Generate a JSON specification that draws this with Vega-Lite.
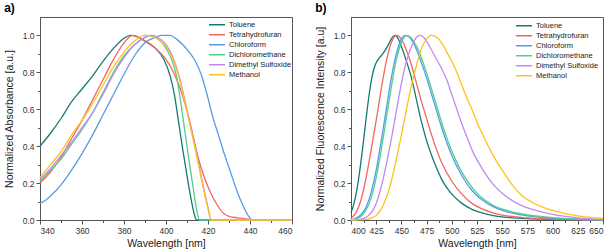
{
  "$schema": "https://vega.github.io/schema/vega-lite/v6.json",
  "padding": {"left": 3, "top": 1, "right": 6, "bottom": 2},
  "spacing": 18,
  "datasets": {
    "abs": [
      {"solvent": "Toluene", "wl": 340, "v": 0.40}, {"solvent": "Toluene", "wl": 345, "v": 0.47}, {"solvent": "Toluene", "wl": 350, "v": 0.55}, {"solvent": "Toluene", "wl": 355, "v": 0.64}, {"solvent": "Toluene", "wl": 360, "v": 0.71}, {"solvent": "Toluene", "wl": 365, "v": 0.78}, {"solvent": "Toluene", "wl": 370, "v": 0.86}, {"solvent": "Toluene", "wl": 375, "v": 0.93}, {"solvent": "Toluene", "wl": 380, "v": 0.985}, {"solvent": "Toluene", "wl": 383, "v": 1.0}, {"solvent": "Toluene", "wl": 386, "v": 0.995}, {"solvent": "Toluene", "wl": 390, "v": 0.97}, {"solvent": "Toluene", "wl": 395, "v": 0.93}, {"solvent": "Toluene", "wl": 399, "v": 0.87}, {"solvent": "Toluene", "wl": 402, "v": 0.78}, {"solvent": "Toluene", "wl": 404, "v": 0.68}, {"solvent": "Toluene", "wl": 406, "v": 0.53}, {"solvent": "Toluene", "wl": 408, "v": 0.38}, {"solvent": "Toluene", "wl": 410, "v": 0.24}, {"solvent": "Toluene", "wl": 412, "v": 0.11}, {"solvent": "Toluene", "wl": 413.5, "v": 0.03}, {"solvent": "Toluene", "wl": 414.5, "v": 0.0}, {"solvent": "Toluene", "wl": 430, "v": 0.0}, {"solvent": "Toluene", "wl": 460, "v": 0.0},
      {"solvent": "Tetrahydrofuran", "wl": 340, "v": 0.20}, {"solvent": "Tetrahydrofuran", "wl": 345, "v": 0.26}, {"solvent": "Tetrahydrofuran", "wl": 350, "v": 0.34}, {"solvent": "Tetrahydrofuran", "wl": 355, "v": 0.44}, {"solvent": "Tetrahydrofuran", "wl": 360, "v": 0.54}, {"solvent": "Tetrahydrofuran", "wl": 365, "v": 0.65}, {"solvent": "Tetrahydrofuran", "wl": 370, "v": 0.76}, {"solvent": "Tetrahydrofuran", "wl": 375, "v": 0.87}, {"solvent": "Tetrahydrofuran", "wl": 380, "v": 0.96}, {"solvent": "Tetrahydrofuran", "wl": 384, "v": 1.0}, {"solvent": "Tetrahydrofuran", "wl": 387, "v": 0.99}, {"solvent": "Tetrahydrofuran", "wl": 390, "v": 0.97}, {"solvent": "Tetrahydrofuran", "wl": 395, "v": 0.93}, {"solvent": "Tetrahydrofuran", "wl": 400, "v": 0.87}, {"solvent": "Tetrahydrofuran", "wl": 404, "v": 0.79}, {"solvent": "Tetrahydrofuran", "wl": 408, "v": 0.67}, {"solvent": "Tetrahydrofuran", "wl": 410, "v": 0.59}, {"solvent": "Tetrahydrofuran", "wl": 412, "v": 0.50}, {"solvent": "Tetrahydrofuran", "wl": 414, "v": 0.40}, {"solvent": "Tetrahydrofuran", "wl": 416, "v": 0.31}, {"solvent": "Tetrahydrofuran", "wl": 418, "v": 0.24}, {"solvent": "Tetrahydrofuran", "wl": 420, "v": 0.18}, {"solvent": "Tetrahydrofuran", "wl": 422, "v": 0.13}, {"solvent": "Tetrahydrofuran", "wl": 424.5, "v": 0.08}, {"solvent": "Tetrahydrofuran", "wl": 427, "v": 0.04}, {"solvent": "Tetrahydrofuran", "wl": 430, "v": 0.02}, {"solvent": "Tetrahydrofuran", "wl": 434, "v": 0.012}, {"solvent": "Tetrahydrofuran", "wl": 437, "v": 0.008}, {"solvent": "Tetrahydrofuran", "wl": 440, "v": 0.003}, {"solvent": "Tetrahydrofuran", "wl": 443, "v": 0.0}, {"solvent": "Tetrahydrofuran", "wl": 460, "v": 0.0},
      {"solvent": "Chloroform", "wl": 340, "v": 0.09}, {"solvent": "Chloroform", "wl": 343, "v": 0.11}, {"solvent": "Chloroform", "wl": 345, "v": 0.13}, {"solvent": "Chloroform", "wl": 350, "v": 0.19}, {"solvent": "Chloroform", "wl": 355, "v": 0.27}, {"solvent": "Chloroform", "wl": 360, "v": 0.36}, {"solvent": "Chloroform", "wl": 365, "v": 0.46}, {"solvent": "Chloroform", "wl": 370, "v": 0.57}, {"solvent": "Chloroform", "wl": 375, "v": 0.68}, {"solvent": "Chloroform", "wl": 380, "v": 0.79}, {"solvent": "Chloroform", "wl": 385, "v": 0.89}, {"solvent": "Chloroform", "wl": 390, "v": 0.96}, {"solvent": "Chloroform", "wl": 395, "v": 0.99}, {"solvent": "Chloroform", "wl": 398, "v": 1.0}, {"solvent": "Chloroform", "wl": 402, "v": 1.0}, {"solvent": "Chloroform", "wl": 405, "v": 0.98}, {"solvent": "Chloroform", "wl": 408, "v": 0.95}, {"solvent": "Chloroform", "wl": 411, "v": 0.91}, {"solvent": "Chloroform", "wl": 414, "v": 0.86}, {"solvent": "Chloroform", "wl": 417, "v": 0.78}, {"solvent": "Chloroform", "wl": 420, "v": 0.66}, {"solvent": "Chloroform", "wl": 422, "v": 0.57}, {"solvent": "Chloroform", "wl": 425, "v": 0.46}, {"solvent": "Chloroform", "wl": 428, "v": 0.35}, {"solvent": "Chloroform", "wl": 431, "v": 0.25}, {"solvent": "Chloroform", "wl": 434, "v": 0.15}, {"solvent": "Chloroform", "wl": 437, "v": 0.07}, {"solvent": "Chloroform", "wl": 440, "v": 0.01}, {"solvent": "Chloroform", "wl": 441, "v": 0.0}, {"solvent": "Chloroform", "wl": 460, "v": 0.0},
      {"solvent": "Dichloromethane", "wl": 340, "v": 0.21}, {"solvent": "Dichloromethane", "wl": 345, "v": 0.27}, {"solvent": "Dichloromethane", "wl": 350, "v": 0.33}, {"solvent": "Dichloromethane", "wl": 355, "v": 0.41}, {"solvent": "Dichloromethane", "wl": 360, "v": 0.49}, {"solvent": "Dichloromethane", "wl": 365, "v": 0.58}, {"solvent": "Dichloromethane", "wl": 370, "v": 0.69}, {"solvent": "Dichloromethane", "wl": 375, "v": 0.80}, {"solvent": "Dichloromethane", "wl": 380, "v": 0.89}, {"solvent": "Dichloromethane", "wl": 385, "v": 0.95}, {"solvent": "Dichloromethane", "wl": 390, "v": 0.99}, {"solvent": "Dichloromethane", "wl": 392, "v": 1.0}, {"solvent": "Dichloromethane", "wl": 395, "v": 0.99}, {"solvent": "Dichloromethane", "wl": 400, "v": 0.93}, {"solvent": "Dichloromethane", "wl": 403, "v": 0.86}, {"solvent": "Dichloromethane", "wl": 405, "v": 0.78}, {"solvent": "Dichloromethane", "wl": 407, "v": 0.64}, {"solvent": "Dichloromethane", "wl": 409, "v": 0.48}, {"solvent": "Dichloromethane", "wl": 411, "v": 0.32}, {"solvent": "Dichloromethane", "wl": 413, "v": 0.17}, {"solvent": "Dichloromethane", "wl": 414.5, "v": 0.06}, {"solvent": "Dichloromethane", "wl": 416, "v": 0.0}, {"solvent": "Dichloromethane", "wl": 460, "v": 0.0},
      {"solvent": "Dimethyl Sulfoxide", "wl": 340, "v": 0.22}, {"solvent": "Dimethyl Sulfoxide", "wl": 345, "v": 0.28}, {"solvent": "Dimethyl Sulfoxide", "wl": 350, "v": 0.35}, {"solvent": "Dimethyl Sulfoxide", "wl": 355, "v": 0.42}, {"solvent": "Dimethyl Sulfoxide", "wl": 360, "v": 0.50}, {"solvent": "Dimethyl Sulfoxide", "wl": 365, "v": 0.58}, {"solvent": "Dimethyl Sulfoxide", "wl": 370, "v": 0.68}, {"solvent": "Dimethyl Sulfoxide", "wl": 375, "v": 0.79}, {"solvent": "Dimethyl Sulfoxide", "wl": 380, "v": 0.88}, {"solvent": "Dimethyl Sulfoxide", "wl": 385, "v": 0.95}, {"solvent": "Dimethyl Sulfoxide", "wl": 390, "v": 0.99}, {"solvent": "Dimethyl Sulfoxide", "wl": 393, "v": 1.0}, {"solvent": "Dimethyl Sulfoxide", "wl": 396, "v": 0.99}, {"solvent": "Dimethyl Sulfoxide", "wl": 400, "v": 0.95}, {"solvent": "Dimethyl Sulfoxide", "wl": 403, "v": 0.89}, {"solvent": "Dimethyl Sulfoxide", "wl": 406, "v": 0.79}, {"solvent": "Dimethyl Sulfoxide", "wl": 409, "v": 0.65}, {"solvent": "Dimethyl Sulfoxide", "wl": 411.5, "v": 0.52}, {"solvent": "Dimethyl Sulfoxide", "wl": 414, "v": 0.39}, {"solvent": "Dimethyl Sulfoxide", "wl": 416, "v": 0.28}, {"solvent": "Dimethyl Sulfoxide", "wl": 418, "v": 0.17}, {"solvent": "Dimethyl Sulfoxide", "wl": 420, "v": 0.07}, {"solvent": "Dimethyl Sulfoxide", "wl": 421.5, "v": 0.0}, {"solvent": "Dimethyl Sulfoxide", "wl": 460, "v": 0.0},
      {"solvent": "Methanol", "wl": 340, "v": 0.23}, {"solvent": "Methanol", "wl": 345, "v": 0.30}, {"solvent": "Methanol", "wl": 350, "v": 0.37}, {"solvent": "Methanol", "wl": 355, "v": 0.46}, {"solvent": "Methanol", "wl": 360, "v": 0.54}, {"solvent": "Methanol", "wl": 365, "v": 0.63}, {"solvent": "Methanol", "wl": 370, "v": 0.73}, {"solvent": "Methanol", "wl": 375, "v": 0.83}, {"solvent": "Methanol", "wl": 380, "v": 0.91}, {"solvent": "Methanol", "wl": 385, "v": 0.97}, {"solvent": "Methanol", "wl": 390, "v": 1.0}, {"solvent": "Methanol", "wl": 393, "v": 0.995}, {"solvent": "Methanol", "wl": 396, "v": 0.98}, {"solvent": "Methanol", "wl": 400, "v": 0.94}, {"solvent": "Methanol", "wl": 403, "v": 0.88}, {"solvent": "Methanol", "wl": 406, "v": 0.78}, {"solvent": "Methanol", "wl": 409, "v": 0.64}, {"solvent": "Methanol", "wl": 411.5, "v": 0.51}, {"solvent": "Methanol", "wl": 414, "v": 0.38}, {"solvent": "Methanol", "wl": 416, "v": 0.27}, {"solvent": "Methanol", "wl": 418, "v": 0.16}, {"solvent": "Methanol", "wl": 420, "v": 0.06}, {"solvent": "Methanol", "wl": 421.5, "v": 0.0}, {"solvent": "Methanol", "wl": 460, "v": 0.0}
    ],
    "fl": [
      {"solvent": "Toluene", "wl": 400, "v": 0.04}, {"solvent": "Toluene", "wl": 403, "v": 0.09}, {"solvent": "Toluene", "wl": 406, "v": 0.17}, {"solvent": "Toluene", "wl": 409, "v": 0.28}, {"solvent": "Toluene", "wl": 412, "v": 0.41}, {"solvent": "Toluene", "wl": 415, "v": 0.55}, {"solvent": "Toluene", "wl": 418, "v": 0.68}, {"solvent": "Toluene", "wl": 421, "v": 0.78}, {"solvent": "Toluene", "wl": 424, "v": 0.84}, {"solvent": "Toluene", "wl": 427, "v": 0.87}, {"solvent": "Toluene", "wl": 430, "v": 0.89}, {"solvent": "Toluene", "wl": 434, "v": 0.92}, {"solvent": "Toluene", "wl": 438, "v": 0.96}, {"solvent": "Toluene", "wl": 441, "v": 0.99}, {"solvent": "Toluene", "wl": 444, "v": 1.0}, {"solvent": "Toluene", "wl": 447, "v": 0.98}, {"solvent": "Toluene", "wl": 450, "v": 0.94}, {"solvent": "Toluene", "wl": 455, "v": 0.86}, {"solvent": "Toluene", "wl": 460, "v": 0.77}, {"solvent": "Toluene", "wl": 465, "v": 0.65}, {"solvent": "Toluene", "wl": 470, "v": 0.53}, {"solvent": "Toluene", "wl": 475, "v": 0.43}, {"solvent": "Toluene", "wl": 480, "v": 0.35}, {"solvent": "Toluene", "wl": 485, "v": 0.28}, {"solvent": "Toluene", "wl": 490, "v": 0.22}, {"solvent": "Toluene", "wl": 495, "v": 0.175}, {"solvent": "Toluene", "wl": 500, "v": 0.14}, {"solvent": "Toluene", "wl": 510, "v": 0.09}, {"solvent": "Toluene", "wl": 520, "v": 0.058}, {"solvent": "Toluene", "wl": 530, "v": 0.038}, {"solvent": "Toluene", "wl": 540, "v": 0.025}, {"solvent": "Toluene", "wl": 550, "v": 0.017}, {"solvent": "Toluene", "wl": 575, "v": 0.007}, {"solvent": "Toluene", "wl": 600, "v": 0.003}, {"solvent": "Toluene", "wl": 650, "v": 0.0},
      {"solvent": "Tetrahydrofuran", "wl": 400, "v": 0.01}, {"solvent": "Tetrahydrofuran", "wl": 405, "v": 0.04}, {"solvent": "Tetrahydrofuran", "wl": 410, "v": 0.11}, {"solvent": "Tetrahydrofuran", "wl": 415, "v": 0.23}, {"solvent": "Tetrahydrofuran", "wl": 420, "v": 0.38}, {"solvent": "Tetrahydrofuran", "wl": 425, "v": 0.54}, {"solvent": "Tetrahydrofuran", "wl": 430, "v": 0.71}, {"solvent": "Tetrahydrofuran", "wl": 435, "v": 0.86}, {"solvent": "Tetrahydrofuran", "wl": 440, "v": 0.96}, {"solvent": "Tetrahydrofuran", "wl": 445, "v": 1.0}, {"solvent": "Tetrahydrofuran", "wl": 450, "v": 0.98}, {"solvent": "Tetrahydrofuran", "wl": 455, "v": 0.92}, {"solvent": "Tetrahydrofuran", "wl": 460, "v": 0.84}, {"solvent": "Tetrahydrofuran", "wl": 465, "v": 0.74}, {"solvent": "Tetrahydrofuran", "wl": 470, "v": 0.64}, {"solvent": "Tetrahydrofuran", "wl": 475, "v": 0.55}, {"solvent": "Tetrahydrofuran", "wl": 480, "v": 0.46}, {"solvent": "Tetrahydrofuran", "wl": 485, "v": 0.38}, {"solvent": "Tetrahydrofuran", "wl": 490, "v": 0.31}, {"solvent": "Tetrahydrofuran", "wl": 500, "v": 0.21}, {"solvent": "Tetrahydrofuran", "wl": 510, "v": 0.14}, {"solvent": "Tetrahydrofuran", "wl": 520, "v": 0.09}, {"solvent": "Tetrahydrofuran", "wl": 530, "v": 0.06}, {"solvent": "Tetrahydrofuran", "wl": 540, "v": 0.04}, {"solvent": "Tetrahydrofuran", "wl": 550, "v": 0.027}, {"solvent": "Tetrahydrofuran", "wl": 575, "v": 0.011}, {"solvent": "Tetrahydrofuran", "wl": 600, "v": 0.005}, {"solvent": "Tetrahydrofuran", "wl": 650, "v": 0.0},
      {"solvent": "Chloroform", "wl": 400, "v": 0.0}, {"solvent": "Chloroform", "wl": 405, "v": 0.01}, {"solvent": "Chloroform", "wl": 410, "v": 0.03}, {"solvent": "Chloroform", "wl": 415, "v": 0.07}, {"solvent": "Chloroform", "wl": 420, "v": 0.15}, {"solvent": "Chloroform", "wl": 425, "v": 0.27}, {"solvent": "Chloroform", "wl": 430, "v": 0.43}, {"solvent": "Chloroform", "wl": 435, "v": 0.60}, {"solvent": "Chloroform", "wl": 440, "v": 0.77}, {"solvent": "Chloroform", "wl": 445, "v": 0.90}, {"solvent": "Chloroform", "wl": 450, "v": 0.98}, {"solvent": "Chloroform", "wl": 454, "v": 1.0}, {"solvent": "Chloroform", "wl": 458, "v": 0.99}, {"solvent": "Chloroform", "wl": 462, "v": 0.96}, {"solvent": "Chloroform", "wl": 466, "v": 0.91}, {"solvent": "Chloroform", "wl": 470, "v": 0.85}, {"solvent": "Chloroform", "wl": 475, "v": 0.77}, {"solvent": "Chloroform", "wl": 480, "v": 0.68}, {"solvent": "Chloroform", "wl": 485, "v": 0.59}, {"solvent": "Chloroform", "wl": 490, "v": 0.50}, {"solvent": "Chloroform", "wl": 495, "v": 0.42}, {"solvent": "Chloroform", "wl": 500, "v": 0.35}, {"solvent": "Chloroform", "wl": 510, "v": 0.24}, {"solvent": "Chloroform", "wl": 520, "v": 0.16}, {"solvent": "Chloroform", "wl": 530, "v": 0.11}, {"solvent": "Chloroform", "wl": 540, "v": 0.075}, {"solvent": "Chloroform", "wl": 550, "v": 0.052}, {"solvent": "Chloroform", "wl": 560, "v": 0.037}, {"solvent": "Chloroform", "wl": 575, "v": 0.022}, {"solvent": "Chloroform", "wl": 600, "v": 0.01}, {"solvent": "Chloroform", "wl": 625, "v": 0.004}, {"solvent": "Chloroform", "wl": 650, "v": 0.001},
      {"solvent": "Dichloromethane", "wl": 400, "v": 0.0}, {"solvent": "Dichloromethane", "wl": 405, "v": 0.005}, {"solvent": "Dichloromethane", "wl": 410, "v": 0.02}, {"solvent": "Dichloromethane", "wl": 415, "v": 0.055}, {"solvent": "Dichloromethane", "wl": 420, "v": 0.12}, {"solvent": "Dichloromethane", "wl": 425, "v": 0.23}, {"solvent": "Dichloromethane", "wl": 430, "v": 0.38}, {"solvent": "Dichloromethane", "wl": 435, "v": 0.55}, {"solvent": "Dichloromethane", "wl": 440, "v": 0.72}, {"solvent": "Dichloromethane", "wl": 445, "v": 0.87}, {"solvent": "Dichloromethane", "wl": 450, "v": 0.96}, {"solvent": "Dichloromethane", "wl": 455, "v": 1.0}, {"solvent": "Dichloromethane", "wl": 459, "v": 0.99}, {"solvent": "Dichloromethane", "wl": 463, "v": 0.96}, {"solvent": "Dichloromethane", "wl": 467, "v": 0.92}, {"solvent": "Dichloromethane", "wl": 471, "v": 0.86}, {"solvent": "Dichloromethane", "wl": 476, "v": 0.78}, {"solvent": "Dichloromethane", "wl": 481, "v": 0.69}, {"solvent": "Dichloromethane", "wl": 486, "v": 0.60}, {"solvent": "Dichloromethane", "wl": 491, "v": 0.51}, {"solvent": "Dichloromethane", "wl": 496, "v": 0.43}, {"solvent": "Dichloromethane", "wl": 501, "v": 0.36}, {"solvent": "Dichloromethane", "wl": 511, "v": 0.25}, {"solvent": "Dichloromethane", "wl": 521, "v": 0.17}, {"solvent": "Dichloromethane", "wl": 531, "v": 0.115}, {"solvent": "Dichloromethane", "wl": 541, "v": 0.08}, {"solvent": "Dichloromethane", "wl": 551, "v": 0.057}, {"solvent": "Dichloromethane", "wl": 561, "v": 0.042}, {"solvent": "Dichloromethane", "wl": 576, "v": 0.027}, {"solvent": "Dichloromethane", "wl": 600, "v": 0.013}, {"solvent": "Dichloromethane", "wl": 625, "v": 0.005}, {"solvent": "Dichloromethane", "wl": 650, "v": 0.002},
      {"solvent": "Dimethyl Sulfoxide", "wl": 400, "v": 0.0}, {"solvent": "Dimethyl Sulfoxide", "wl": 410, "v": 0.005}, {"solvent": "Dimethyl Sulfoxide", "wl": 415, "v": 0.015}, {"solvent": "Dimethyl Sulfoxide", "wl": 420, "v": 0.04}, {"solvent": "Dimethyl Sulfoxide", "wl": 425, "v": 0.09}, {"solvent": "Dimethyl Sulfoxide", "wl": 430, "v": 0.18}, {"solvent": "Dimethyl Sulfoxide", "wl": 435, "v": 0.30}, {"solvent": "Dimethyl Sulfoxide", "wl": 440, "v": 0.44}, {"solvent": "Dimethyl Sulfoxide", "wl": 445, "v": 0.59}, {"solvent": "Dimethyl Sulfoxide", "wl": 450, "v": 0.74}, {"solvent": "Dimethyl Sulfoxide", "wl": 455, "v": 0.86}, {"solvent": "Dimethyl Sulfoxide", "wl": 460, "v": 0.94}, {"solvent": "Dimethyl Sulfoxide", "wl": 465, "v": 0.99}, {"solvent": "Dimethyl Sulfoxide", "wl": 468, "v": 1.0}, {"solvent": "Dimethyl Sulfoxide", "wl": 472, "v": 0.99}, {"solvent": "Dimethyl Sulfoxide", "wl": 476, "v": 0.96}, {"solvent": "Dimethyl Sulfoxide", "wl": 480, "v": 0.92}, {"solvent": "Dimethyl Sulfoxide", "wl": 485, "v": 0.87}, {"solvent": "Dimethyl Sulfoxide", "wl": 490, "v": 0.82}, {"solvent": "Dimethyl Sulfoxide", "wl": 495, "v": 0.76}, {"solvent": "Dimethyl Sulfoxide", "wl": 500, "v": 0.68}, {"solvent": "Dimethyl Sulfoxide", "wl": 505, "v": 0.60}, {"solvent": "Dimethyl Sulfoxide", "wl": 510, "v": 0.52}, {"solvent": "Dimethyl Sulfoxide", "wl": 515, "v": 0.45}, {"solvent": "Dimethyl Sulfoxide", "wl": 520, "v": 0.38}, {"solvent": "Dimethyl Sulfoxide", "wl": 530, "v": 0.28}, {"solvent": "Dimethyl Sulfoxide", "wl": 540, "v": 0.20}, {"solvent": "Dimethyl Sulfoxide", "wl": 550, "v": 0.145}, {"solvent": "Dimethyl Sulfoxide", "wl": 560, "v": 0.105}, {"solvent": "Dimethyl Sulfoxide", "wl": 570, "v": 0.077}, {"solvent": "Dimethyl Sulfoxide", "wl": 580, "v": 0.057}, {"solvent": "Dimethyl Sulfoxide", "wl": 600, "v": 0.03}, {"solvent": "Dimethyl Sulfoxide", "wl": 625, "v": 0.012}, {"solvent": "Dimethyl Sulfoxide", "wl": 650, "v": 0.004},
      {"solvent": "Methanol", "wl": 400, "v": 0.0}, {"solvent": "Methanol", "wl": 415, "v": 0.003}, {"solvent": "Methanol", "wl": 420, "v": 0.01}, {"solvent": "Methanol", "wl": 425, "v": 0.025}, {"solvent": "Methanol", "wl": 430, "v": 0.06}, {"solvent": "Methanol", "wl": 435, "v": 0.12}, {"solvent": "Methanol", "wl": 440, "v": 0.21}, {"solvent": "Methanol", "wl": 445, "v": 0.33}, {"solvent": "Methanol", "wl": 450, "v": 0.46}, {"solvent": "Methanol", "wl": 455, "v": 0.60}, {"solvent": "Methanol", "wl": 460, "v": 0.73}, {"solvent": "Methanol", "wl": 465, "v": 0.84}, {"solvent": "Methanol", "wl": 470, "v": 0.93}, {"solvent": "Methanol", "wl": 475, "v": 0.98}, {"solvent": "Methanol", "wl": 480, "v": 1.0}, {"solvent": "Methanol", "wl": 485, "v": 0.99}, {"solvent": "Methanol", "wl": 490, "v": 0.96}, {"solvent": "Methanol", "wl": 495, "v": 0.91}, {"solvent": "Methanol", "wl": 500, "v": 0.86}, {"solvent": "Methanol", "wl": 505, "v": 0.80}, {"solvent": "Methanol", "wl": 510, "v": 0.73}, {"solvent": "Methanol", "wl": 515, "v": 0.66}, {"solvent": "Methanol", "wl": 520, "v": 0.60}, {"solvent": "Methanol", "wl": 525, "v": 0.53}, {"solvent": "Methanol", "wl": 530, "v": 0.47}, {"solvent": "Methanol", "wl": 540, "v": 0.36}, {"solvent": "Methanol", "wl": 550, "v": 0.27}, {"solvent": "Methanol", "wl": 560, "v": 0.19}, {"solvent": "Methanol", "wl": 570, "v": 0.13}, {"solvent": "Methanol", "wl": 580, "v": 0.095}, {"solvent": "Methanol", "wl": 590, "v": 0.07}, {"solvent": "Methanol", "wl": 600, "v": 0.052}, {"solvent": "Methanol", "wl": 625, "v": 0.022}, {"solvent": "Methanol", "wl": 650, "v": 0.008}
    ]
  },
  "hconcat": [
    {
      "width": 252, "height": 203,
      "title": {"text": "a)"},
      "layer": [
        {
          "data": {"name": "abs"},
          "mark": {"type": "line", "strokeWidth": 1.3, "interpolate": "monotone"},
          "encoding": {
            "x": {"field": "wl", "type": "quantitative", "scale": {"domain": [340, 460], "nice": false},
                  "axis": {"values": [340, 360, 380, 400, 420, 440, 460], "title": "Wavelength [nm]", "format": "d"}},
            "y": {"field": "v", "type": "quantitative", "scale": {"domain": [0, 1.1], "nice": false},
                  "axis": {"values": [0, 0.2, 0.4, 0.6, 0.8, 1.0], "format": ".1f", "title": "Normalized Absorbance [a.u.]"}},
            "color": {"field": "solvent", "type": "nominal",
                      "scale": {"domain": ["Toluene", "Tetrahydrofuran", "Chloroform", "Dichloromethane", "Dimethyl Sulfoxide", "Methanol"],
                                "range": ["#137a74", "#f26661", "#5a98e8", "#4fcf8c", "#c389f1", "#ffc21a"]},
                      "legend": {"orient": "none", "legendX": 168, "legendY": 3}}
          }
        },
        {
          "data": {"name": "abs"},
          "mark": {"type": "line", "opacity": 0},
          "encoding": {
            "x": {"field": "wl", "type": "quantitative", "axis": {"orient": "bottom", "values": [350, 370, 390, 410, 430, 450], "labels": false, "domain": false, "title": null, "tickSize": 2.5}},
            "y": {"field": "v", "type": "quantitative", "axis": {"orient": "left", "values": [0.1, 0.3, 0.5, 0.7, 0.9], "labels": false, "domain": false, "title": null, "tickSize": 2.5}}
          }
        }
      ],
      "resolve": {"axis": {"x": "independent", "y": "independent"}}
    },
    {
      "width": 252, "height": 203,
      "title": {"text": "b)"},
      "layer": [
        {
          "data": {"name": "fl"},
          "mark": {"type": "line", "strokeWidth": 1.3, "interpolate": "monotone"},
          "encoding": {
            "x": {"field": "wl", "type": "quantitative", "scale": {"domain": [400, 650], "nice": false},
                  "axis": {"values": [400, 425, 450, 475, 500, 525, 550, 575, 600, 625, 650], "title": "Wavelength [nm]", "format": "d"}},
            "y": {"field": "v", "type": "quantitative", "scale": {"domain": [0, 1.1], "nice": false},
                  "axis": {"values": [0, 0.2, 0.4, 0.6, 0.8, 1.0], "format": ".1f", "title": "Normalized Fluorescence Intensity [a.u]"}},
            "color": {"field": "solvent", "type": "nominal",
                      "scale": {"domain": ["Toluene", "Tetrahydrofuran", "Chloroform", "Dichloromethane", "Dimethyl Sulfoxide", "Methanol"],
                                "range": ["#137a74", "#f26661", "#5a98e8", "#4fcf8c", "#c389f1", "#ffc21a"]},
                      "legend": {"orient": "none", "legendX": 164, "legendY": 4}}
          }
        },
        {
          "data": {"name": "fl"},
          "mark": {"type": "line", "opacity": 0},
          "encoding": {
            "x": {"field": "wl", "type": "quantitative", "axis": {"orient": "bottom", "values": [412.5, 437.5, 462.5, 487.5, 512.5, 537.5, 562.5, 587.5, 612.5, 637.5], "labels": false, "domain": false, "title": null, "tickSize": 2.5}},
            "y": {"field": "v", "type": "quantitative", "axis": {"orient": "left", "values": [0.1, 0.3, 0.5, 0.7, 0.9], "labels": false, "domain": false, "title": null, "tickSize": 2.5}}
          }
        }
      ],
      "resolve": {"axis": {"x": "independent", "y": "independent"}}
    }
  ],
  "resolve": {"scale": {"color": "independent"}, "legend": {"color": "independent"}},
  "config": {
    "font": "Liberation Sans",
    "view": {"stroke": "#555555", "strokeWidth": 1},
    "axis": {"grid": false, "labelFont": "Liberation Sans", "labelFontSize": 8.5, "labelColor": "#333333", "labelPadding": 2,
             "titleFont": "Liberation Sans", "titleFontSize": 10.5, "titleFontWeight": "normal", "titleColor": "#222222",
             "domainColor": "#555555", "tickColor": "#555555", "tickSize": 4, "titlePadding": 4},
    "axisY": {"titlePadding": 8},
    "legend": {"title": null, "symbolType": "stroke", "symbolSize": 256, "symbolStrokeWidth": 1.5, "clipHeight": 9.4, "rowPadding": 0,
               "labelFont": "Liberation Sans", "labelFontSize": 7.5, "labelColor": "#222222", "labelOffset": 3, "padding": 0},
    "title": {"anchor": "start", "frame": "bounds", "fontSize": 12, "fontWeight": "bold", "font": "Liberation Sans", "offset": 2, "color": "#000000"}
  }
}
